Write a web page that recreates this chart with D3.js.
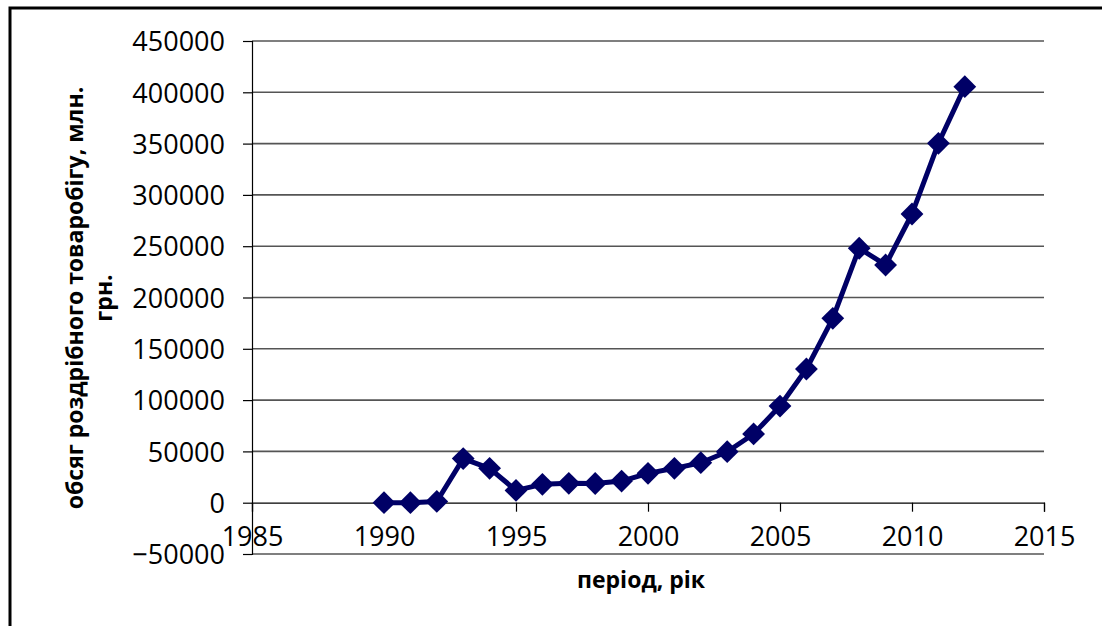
<!DOCTYPE html>
<html>
<head>
<meta charset="utf-8">
<script src="https://cdn.jsdelivr.net/npm/d3@7"></script>
<style>
  body { margin: 0; background: #fff; }
  svg { display: block; }
  .tick text { font-family: "Open Sans", sans-serif; font-size: 27px; fill: #000; }
  .title { font-family: "Open Sans", sans-serif; font-weight: bold; font-size: 23px; fill: #000; }
</style>
</head>
<body>
<svg id="chart" width="1102" height="626"></svg>
<script>
// data
const years = [1990, 1991, 1992, 1993, 1994, 1995, 1996, 1997, 1998, 1999, 2000, 2001,
  2002, 2003, 2004, 2005, 2006, 2007, 2008, 2009, 2010, 2011, 2012]
const turnover = [0, 0, 1200, 43000, 33500, 12000, 17900, 18900, 18700, 21100, 28600, 33500,
  39000, 49700, 67000, 94200, 130300, 179700, 248000, 231700, 281400, 350300, 405500]
const xTicks = [1985, 1990, 1995, 2000, 2005, 2010, 2015]
const yTicks = [-50000, 0, 50000, 100000, 150000, 200000, 250000, 300000, 350000, 400000, 450000]

const xTitle = 'період, рік'
const yTitle = ['обсяг роздрібного товаробігу, млн.', 'грн.']

const svg = d3.select('#chart')

// outer frame
svg.append('rect')
  .attr('x', 10).attr('y', 8)
  .attr('width', 1110).attr('height', 700)
  .attr('fill', 'none').attr('stroke', '#000').attr('stroke-width', 3)

const x = d3.scaleLinear().domain([1985, 2015]).range([252, 1044])
const y = d3.scaleLinear().domain([-50000, 450000]).range([554, 41])

// gridlines
svg.append('g')
  .selectAll('line')
  .data(yTicks.filter(d => d !== 0 && d !== -50000))
  .join('line')
  .attr('x1', x(1985)).attr('x2', x(2015))
  .attr('y1', d => y(d)).attr('y2', d => y(d))
  .attr('stroke', '#555').attr('stroke-width', 1.6)

// bottom border of plot
svg.append('line')
  .attr('x1', x(1985)).attr('x2', x(2015))
  .attr('y1', y(-50000)).attr('y2', y(-50000))
  .attr('stroke', '#000').attr('stroke-width', 1.2)

// y axis
const yAxis = svg.append('g')
  .attr('transform', `translate(${x(1985)},0)`)
  .call(d3.axisLeft(y).tickValues(yTicks).tickFormat(d3.format('d')).tickSize(9).tickPadding(18))
yAxis.select('.domain').attr('stroke', '#000').attr('stroke-width', 1.2)
yAxis.selectAll('.tick line').attr('stroke', '#000').attr('stroke-width', 1.2)
yAxis.selectAll('.tick text').attr('dy', '0.36em')

// x axis at zero
const xAxis = svg.append('g')
  .attr('transform', `translate(0,${y(0)})`)
  .call(d3.axisBottom(x).tickValues(xTicks).tickFormat(d3.format('d')).tickSize(9).tickPadding(15))
xAxis.select('.domain').attr('stroke', '#000').attr('stroke-width', 1.2)
xAxis.selectAll('.tick line').attr('stroke', '#000').attr('stroke-width', 1.2)

// line
const line = d3.line().x((d, i) => x(years[i])).y(d => y(d))
svg.append('path')
  .datum(turnover)
  .attr('d', line)
  .attr('fill', 'none')
  .attr('stroke', '#000066')
  .attr('stroke-width', 5)
  .attr('stroke-linejoin', 'round')

// diamond markers
const diamond = d3.symbol().type(d3.symbolSquare).size(260)
svg.append('g')
  .selectAll('path')
  .data(turnover)
  .join('path')
  .attr('d', diamond)
  .attr('transform', (d, i) => `translate(${x(years[i])},${y(d)}) rotate(45)`)
  .attr('fill', '#000066')

// axis titles
svg.append('text')
  .attr('class', 'title')
  .attr('x', 641).attr('y', 588)
  .attr('text-anchor', 'middle')
  .text(xTitle)

const yt = svg.append('text')
  .attr('class', 'title')
  .attr('text-anchor', 'middle')
  .attr('transform', 'translate(83,298) rotate(-90)')
yt.selectAll('tspan')
  .data(yTitle)
  .join('tspan')
  .attr('x', 0)
  .attr('dy', (d, i) => i === 0 ? 0 : 29)
  .text(d => d)
</script>
</body>
</html>
